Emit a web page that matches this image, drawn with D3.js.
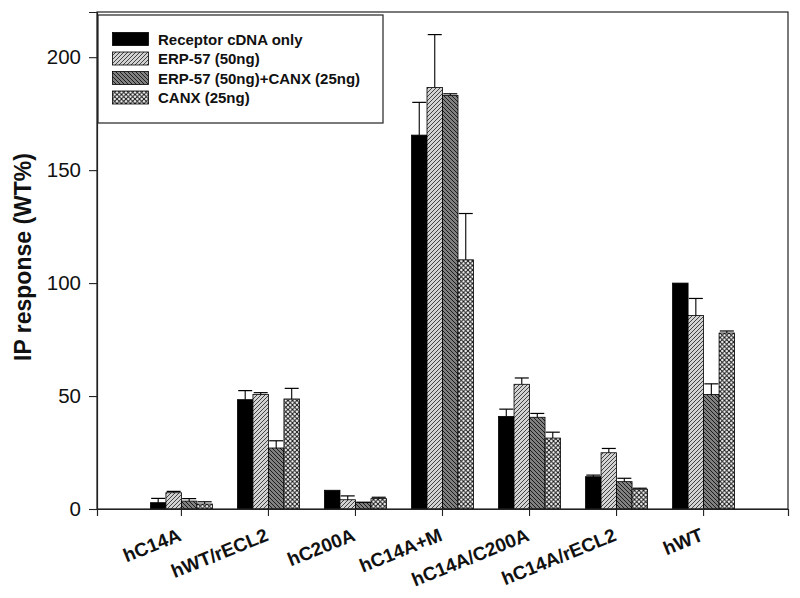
<!DOCTYPE html>
<html>
<head>
<meta charset="utf-8">
<script src="https://cdn.jsdelivr.net/npm/d3@7"></script>
<style>
  html, body { margin: 0; padding: 0; background: #fff; }
  svg { display: block; font-family: "Liberation Sans", Arial, sans-serif; }
</style>
</head>
<body>
<svg id="chart" width="800" height="598"></svg>
<script>
// ---- data ----
const categories = ["hC14A", "hWT/rECL2", "hC200A", "hC14A+M", "hC14A/C200A", "hC14A/rECL2", "hWT"];
const seriesNames = ["Receptor cDNA only", "ERP-57 (50ng)", "ERP-57 (50ng)+CANX (25ng)", "CANX (25ng)"];
const receptorOnly    = [2.8, 48.4, 8.3, 165.5, 41.0, 14.3, 100.0];
const receptorErr     = [1.9, 4.0, 0, 14.5, 3.2, 0.7, 0];
const erp57           = [7.2, 50.7, 4.1, 186.6, 55.2, 24.9, 85.7];
const erp57Err        = [0.6, 0.8, 1.7, 23.4, 2.8, 1.9, 7.5];
const erp57Canx       = [3.5, 27.0, 2.8, 183.0, 40.6, 12.1, 50.7];
const erp57CanxErr    = [1.1, 3.2, 0.2, 0.8, 1.7, 1.5, 4.7];
const canx            = [2.2, 48.7, 4.6, 110.3, 31.4, 8.8, 77.9];
const canxErr         = [1.0, 4.7, 0.6, 20.5, 2.6, 0.4, 0.9];
const yTicks = [0, 50, 100, 150, 200];
const yTitle = "IP response (WT%)";

const values = [receptorOnly, erp57, erp57Canx, canx];
const errors = [receptorErr, erp57Err, erp57CanxErr, canxErr];

// ---- layout ----
const svg = d3.select("#chart");
const L = 97, R = 788, T = 12, B = 509;

const defs = svg.append("defs");
// light gray with "/" lines
const p1 = defs.append("pattern").attr("id", "pFwd").attr("patternUnits", "userSpaceOnUse")
  .attr("width", 4).attr("height", 4);
p1.append("rect").attr("width", 4).attr("height", 4).attr("fill", "#d2d2d2");
p1.append("path").attr("d", "M-1,1 L1,-1 M0,4 L4,0 M3,5 L5,3").attr("stroke", "#333").attr("stroke-width", 0.9);
// dark gray with "\" lines
const p2 = defs.append("pattern").attr("id", "pBack").attr("patternUnits", "userSpaceOnUse")
  .attr("width", 4).attr("height", 4);
p2.append("rect").attr("width", 4).attr("height", 4).attr("fill", "#808080");
p2.append("path").attr("d", "M-1,3 L1,5 M0,0 L4,4 M3,-1 L5,1").attr("stroke", "#111").attr("stroke-width", 0.9);
// crosshatch
const p3 = defs.append("pattern").attr("id", "pCross").attr("patternUnits", "userSpaceOnUse")
  .attr("width", 4.5).attr("height", 4.5);
p3.append("rect").attr("width", 4.5).attr("height", 4.5).attr("fill", "#fff");
p3.append("path").attr("d", "M0,0 L4.5,4.5 M4.5,0 L0,4.5").attr("stroke", "#111").attr("stroke-width", 1.0);

const fills = ["#000", "url(#pFwd)", "url(#pBack)", "url(#pCross)"];

const x0 = d3.scaleBand().domain(categories).range([L, R]).paddingInner(0).paddingOuter(0.47);
const x1 = d3.scaleBand().domain(d3.range(seriesNames.length)).range([-31, 31]);
const y = d3.scaleLinear().domain([0, 220]).range([B, T]);

// bars
const g = svg.append("g");
categories.forEach((c, i) => {
  const cx = x0(c) + x0.bandwidth() / 2;
  values.forEach((vals, s) => {
    g.append("rect")
      .attr("x", cx + x1(s))
      .attr("y", y(vals[i]))
      .attr("width", x1.bandwidth())
      .attr("height", y(0) - y(vals[i]))
      .attr("fill", fills[s])
      .attr("stroke", "#000")
      .attr("stroke-width", 0.8);
  });
});
// error bars (upper)
categories.forEach((c, i) => {
  const cx = x0(c) + x0.bandwidth() / 2;
  values.forEach((vals, s) => {
    const e = errors[s][i];
    if (!e) return;
    const bx = cx + x1(s) + x1.bandwidth() / 2;
    const top = y(vals[i] + e);
    g.append("line").attr("x1", bx).attr("x2", bx).attr("y1", y(vals[i])).attr("y2", top)
      .attr("stroke", "#000").attr("stroke-width", 1.1);
    g.append("line").attr("x1", bx - 7).attr("x2", bx + 7).attr("y1", top).attr("y2", top)
      .attr("stroke", "#000").attr("stroke-width", 1.2);
  });
});

// frame
svg.append("rect").attr("x", L).attr("y", T).attr("width", R - L).attr("height", B - T)
  .attr("fill", "none").attr("stroke", "#222").attr("stroke-width", 1.2);

// y axis
const yAxis = d3.axisLeft(y).tickValues(yTicks).tickSize(8).tickPadding(8);
const ya = svg.append("g").attr("transform", `translate(${L},0)`).call(yAxis);
ya.select(".domain").attr("stroke", "#222").attr("stroke-width", 1.2);
ya.selectAll(".tick line").attr("stroke", "#222").attr("stroke-width", 1.1);
ya.selectAll(".tick text").attr("font-size", "20.5px").attr("fill", "#111")
  .attr("font-family", "Liberation Sans, Arial, sans-serif");

// x axis
const xAxis = d3.axisBottom(x0).tickSize(7).tickFormat("");
const xa = svg.append("g").attr("transform", `translate(0,${B})`).call(xAxis);
xa.select(".domain").attr("stroke", "#222").attr("stroke-width", 1.2);
xa.selectAll(".tick line").attr("stroke", "#222").attr("stroke-width", 1.1);
categories.forEach(c => {
  const cx = x0(c) + x0.bandwidth() / 2;
  svg.append("text")
    .attr("transform", `translate(${cx + 1},540) rotate(-22)`)
    .attr("text-anchor", "end")
    .attr("font-size", "19px").attr("font-weight", "bold").attr("fill", "#111")
    .text(c);
});

// y title
svg.append("text")
  .attr("transform", "translate(31,257) rotate(-90)")
  .attr("text-anchor", "middle")
  .attr("font-size", "23px").attr("font-weight", "bold").attr("fill", "#111")
  .text(yTitle);

// legend
const lg = svg.append("g");
lg.append("rect").attr("x", 98).attr("y", 15).attr("width", 285).attr("height", 108)
  .attr("fill", "#fff").attr("stroke", "#222").attr("stroke-width", 1.2);
const rowY = d3.scalePoint().domain(d3.range(seriesNames.length)).range([39, 97.5]);
seriesNames.forEach((name, s) => {
  const cy = rowY(s);
  lg.append("rect").attr("x", 112.5).attr("y", cy - 6.5).attr("width", 36).attr("height", 13)
    .attr("fill", fills[s]).attr("stroke", "#000").attr("stroke-width", 0.8);
  lg.append("text").attr("x", 158).attr("y", cy + 5.5)
    .attr("font-size", "15px").attr("font-weight", "bold").attr("fill", "#111")
    .text(name);
});
</script>
</body>
</html>
